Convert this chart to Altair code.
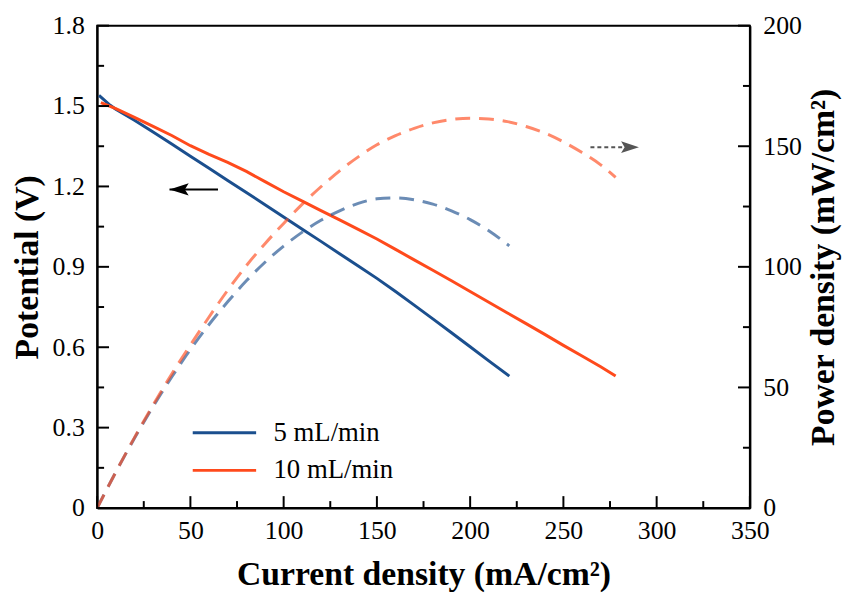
import altair as alt
import pandas as pd

# ---------------- data ----------------
SERIES = ["5 mL/min", "10 mL/min"]
COLORS = ["#1b4f8e", "#ff4a1c"]

# polarization curves (current density mA/cm2, potential V)
I_5 = [1, 7, 10, 20, 30, 40, 50, 60, 70, 80, 90, 100, 110, 120, 130, 140, 150,
       160, 170, 180, 190, 200, 210, 221]
V_5 = [1.540, 1.503, 1.488, 1.447, 1.403, 1.358, 1.313, 1.268, 1.222, 1.177, 1.132,
       1.086, 1.040, 0.995, 0.949, 0.903, 0.857, 0.808, 0.757, 0.706, 0.654, 0.602,
       0.549, 0.492]
I_10 = [2, 10, 20, 30, 40, 50, 60, 70, 80, 90, 100, 110, 120, 130, 140, 150, 160,
        170, 180, 190, 200, 210, 220, 230, 240, 250, 260, 270, 278]
V_10 = [1.513, 1.490, 1.458, 1.424, 1.390, 1.352, 1.320, 1.290, 1.256, 1.218, 1.180,
        1.145, 1.110, 1.075, 1.040, 1.004, 0.965, 0.926, 0.887, 0.848, 0.808, 0.768,
        0.728, 0.688, 0.648, 0.607, 0.567, 0.527, 0.493]

# power density curves (mW/cm2)
PI_5 = [0, 10, 20, 30, 40, 50, 60, 70, 80, 90, 100, 110, 120, 130, 140, 150, 160,
        170, 180, 190, 200, 210, 221]
P_5 = [0, 14.9, 28.9, 42.1, 54.3, 65.7, 76.1, 85.5, 94.2, 101.9, 108.6, 114.4, 119.3,
       123.2, 126.3, 128.2, 128.6, 127.8, 126.0, 123.2, 119.6, 115.0, 108.7]
PI_10 = [0, 10, 20, 30, 40, 50, 60, 70, 80, 90, 100, 110, 120, 130, 140, 150, 160,
         170, 180, 190, 200, 210, 220, 230, 240, 250, 260, 270, 278]
P_10 = [0, 14.9, 29.2, 42.7, 55.6, 67.6, 79.2, 90.3, 100.5, 109.6, 118.0, 126.0, 133.2,
        139.8, 145.6, 150.6, 154.4, 157.4, 159.7, 161.1, 161.6, 161.3, 160.2, 158.2,
        155.5, 151.8, 147.4, 142.3, 137.1]

# annotation arrows
ARROW_L_X = [38.8, 64.8]            # left-pointing arrow (potential axis): tip, tail
ARROW_L_V = 1.189
ARROW_R_X = [264.5, 282.0, 290.5]   # dashed arrow to the power axis: tail, line end, tip
ARROW_R_P = 149.6

# axis ticks
X_MAJOR = [0, 50, 100, 150, 200, 250, 300, 350]
X_MINOR = [25, 75, 125, 175, 225, 275, 325]
V_MAJOR = [0, 0.3, 0.6, 0.9, 1.2, 1.5, 1.8]
V_MINOR = [0.15, 0.45, 0.75, 1.05, 1.35, 1.65]
P_MAJOR = [0, 50, 100, 150, 200]
P_MINOR = [25, 75, 125, 175]

# ---------------- tables ----------------
pol = pd.DataFrame({
    "I": I_5 + I_10,
    "V": V_5 + V_10,
    "series": [SERIES[0]] * len(I_5) + [SERIES[1]] * len(I_10),
})
pw = pd.DataFrame({
    "I": PI_5 + PI_10,
    "P": P_5 + P_10,
    "series": [SERIES[0]] * len(PI_5) + [SERIES[1]] * len(PI_10),
})
arrL = pd.DataFrame({"x0": [ARROW_L_X[0]], "x1": [ARROW_L_X[1]], "V": [ARROW_L_V]})
arrR = pd.DataFrame({"x0": [ARROW_R_X[0]], "x1": [ARROW_R_X[1]], "tip": [ARROW_R_X[2]],
                     "P": [ARROW_R_P]})

W, H = 659, 487
FONT = "Liberation Serif"
X_DOM, V_DOM, P_DOM = [0, 350], [0, 1.8], [0, 200]
MAJ, MIN = 12, 7   # tick lengths in pixels

xs = alt.Scale(domain=X_DOM, nice=False, zero=False)
vs = alt.Scale(domain=V_DOM, nice=False, zero=False)
ps = alt.Scale(domain=P_DOM, nice=False, zero=False)
cs = alt.Scale(domain=SERIES, range=COLORS)

lab = dict(labelFont=FONT, labelFontSize=26, labelColor="black", labelFlush=False,
           labelOverlap=False, grid=False, ticks=False, tickSize=0,
           domainColor="black", domainWidth=2,
           titleFont=FONT, titleFontSize=34, titleFontWeight="bold", titleColor="black")

x_main = alt.Axis(orient="bottom", values=X_MAJOR, labelPadding=10,
                  title="Current density (mA/cm²)", titleX=W / 2, titleY=77,
                  titleAlign="center", titleBaseline="alphabetic", **lab)
v_main = alt.Axis(orient="left", values=V_MAJOR, labelPadding=13,
                  labelExpr="datum.value == 0 ? '0' : format(datum.value, '.1f')",
                  title="Potential (V)", titleX=-70, titleY=H / 2, titleAngle=270,
                  titleAlign="center", titleBaseline="middle", **lab)
p_main = alt.Axis(orient="right", values=P_MAJOR, labelPadding=13,
                  title="Power density (mW/cm²)", titleX=74, titleY=H / 2, titleAngle=270,
                  titleAlign="center", titleBaseline="middle", **lab)

legend = alt.Legend(orient="none", legendX=95, legendY=392, title=None,
                    symbolType="stroke", symbolSize=4096, symbolStrokeWidth=3,
                    labelFont=FONT, labelFontSize=27, labelColor="black",
                    labelOffset=16, clipHeight=38, rowPadding=0, padding=0)

pol_layer = alt.Chart(pol).mark_line(strokeWidth=3).encode(
    x=alt.X("I:Q", scale=xs, axis=x_main),
    y=alt.Y("V:Q", scale=vs, axis=v_main),
    color=alt.Color("series:N", scale=cs, legend=legend),
    detail="series:N",
)

pw_layer = alt.Chart(pw).mark_line(strokeWidth=3, strokeDash=[15, 9], opacity=0.65,
                                   interpolate="monotone").encode(
    x=alt.X("I:Q", scale=xs, axis=None),
    y=alt.Y("P:Q", scale=ps, axis=p_main),
    color=alt.Color("series:N", scale=cs, legend=None),
    detail="series:N",
)

arrL_line = alt.Chart(arrL).mark_rule(color="black", strokeWidth=2).encode(
    x=alt.X("x0:Q", scale=xs, axis=None),
    x2="x1:Q",
    y=alt.Y("V:Q", scale=vs, axis=None),
)
arrL_head = alt.Chart(arrL).mark_point(
    shape="M0,0 L1,-0.32 L0.8,0 L1,0.32 Z", filled=True, size=1500, color="black",
    opacity=1, strokeWidth=0).encode(
    x=alt.X("x0:Q", scale=xs, axis=None),
    y=alt.Y("V:Q", scale=vs, axis=None),
)
arrR_line = alt.Chart(arrR).mark_rule(color="#555555", strokeWidth=2,
                                      strokeDash=[4, 3]).encode(
    x=alt.X("x0:Q", scale=xs, axis=None),
    x2="x1:Q",
    y=alt.Y("P:Q", scale=ps, axis=None),
)
arrR_head = alt.Chart(arrR).mark_point(
    shape="M0,0 L-1,-0.33 L-0.8,0 L-1,0.33 Z", filled=True, size=1300, color="#555555",
    opacity=1, strokeWidth=0).encode(
    x=alt.X("tip:Q", scale=xs, axis=None),
    y=alt.Y("P:Q", scale=ps, axis=None),
)

# inward-pointing axis ticks (tick lengths converted from pixels to data units)
x_per_px = (X_DOM[1] - X_DOM[0]) / W
v_per_px = (V_DOM[1] - V_DOM[0]) / H


def x_ticks(values, size):
    df = pd.DataFrame({"t": values, "a": [V_DOM[0]] * len(values),
                       "b": [V_DOM[0] + size * v_per_px] * len(values)})
    return alt.Chart(df).mark_rule(color="black", strokeWidth=2).encode(
        x=alt.X("t:Q", scale=xs, axis=None),
        y=alt.Y("a:Q", scale=vs, axis=None), y2="b:Q")


def y_ticks(values, scale, size, right=False):
    if right:
        a, b = X_DOM[1] - size * x_per_px, X_DOM[1]
    else:
        a, b = X_DOM[0], X_DOM[0] + size * x_per_px
    df = pd.DataFrame({"t": values, "a": [a] * len(values), "b": [b] * len(values)})
    return alt.Chart(df).mark_rule(color="black", strokeWidth=2).encode(
        y=alt.Y("t:Q", scale=scale, axis=None),
        x=alt.X("a:Q", scale=xs, axis=None), x2="b:Q")


ticks = [
    x_ticks(X_MAJOR, MAJ), x_ticks(X_MINOR, MIN),
    y_ticks(V_MAJOR, vs, MAJ), y_ticks(V_MINOR, vs, MIN),
    y_ticks(P_MAJOR, ps, MAJ, right=True), y_ticks(P_MINOR, ps, MIN, right=True),
]

chart = alt.layer(
    pol_layer, pw_layer, arrL_line, arrL_head, arrR_line, arrR_head, *ticks
).resolve_scale(
    y="independent"
).resolve_axis(
    x="independent", y="independent"
).properties(
    width=W, height=H,
    autosize=alt.AutoSizeParams(type="none"),
    padding={"left": 90, "top": 15, "right": 95, "bottom": 86},
).configure_view(
    stroke="black", strokeWidth=2
)

chart.save("out.html", embed_options={"renderer": "svg", "actions": False})
